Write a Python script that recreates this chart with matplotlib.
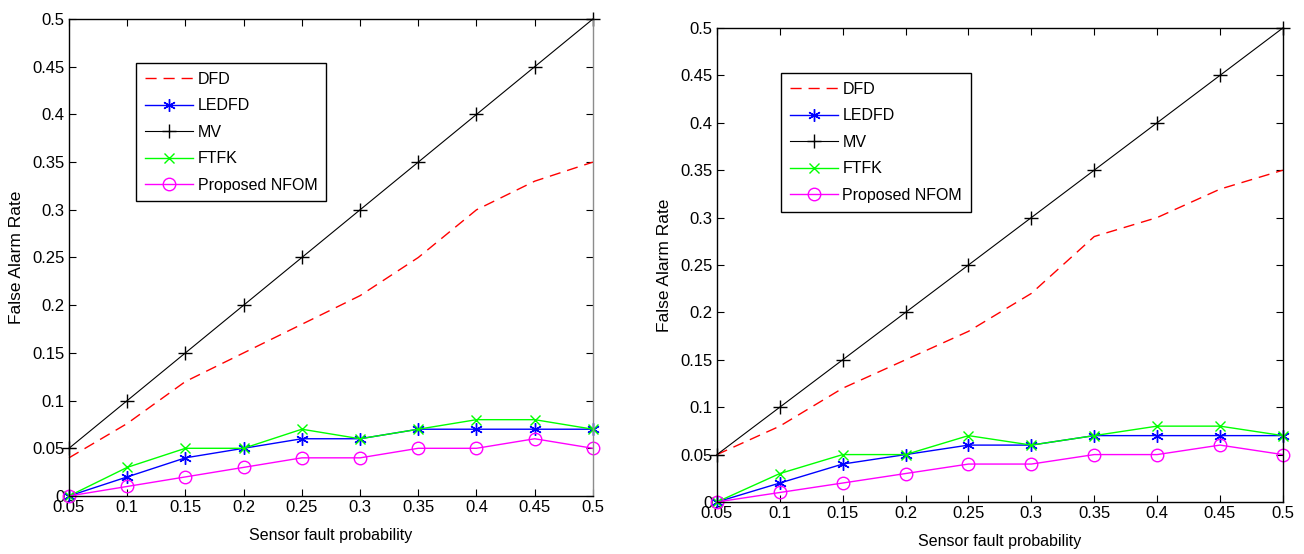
import matplotlib
matplotlib.use("Agg")
import matplotlib.pyplot as plt

plt.rcParams["font.family"] = ["Liberation Sans", "DejaVu Sans"]

# sensor fault probability (x) shared by both runs
P_FAULT = [0.05, 0.10, 0.15, 0.20, 0.25, 0.30, 0.35, 0.40, 0.45, 0.50]

# false alarm rates, run A (left) and run B (right)
DFD_A = [0.04, 0.076, 0.12, 0.15, 0.18, 0.21, 0.25, 0.30, 0.33, 0.35]
DFD_B = [0.05, 0.08, 0.12, 0.15, 0.18, 0.22, 0.28, 0.30, 0.33, 0.35]
LEDFD = [0.0, 0.02, 0.04, 0.05, 0.06, 0.06, 0.07, 0.07, 0.07, 0.07]
MV = [0.05, 0.10, 0.15, 0.20, 0.25, 0.30, 0.35, 0.40, 0.45, 0.50]
FTFK = [0.0, 0.03, 0.05, 0.05, 0.07, 0.06, 0.07, 0.08, 0.08, 0.07]
NFOM = [0.0, 0.01, 0.02, 0.03, 0.04, 0.04, 0.05, 0.05, 0.06, 0.05]

X_TICKS = [0.05, 0.1, 0.15, 0.2, 0.25, 0.3, 0.35, 0.4, 0.45, 0.5]
Y_TICKS = [0, 0.05, 0.1, 0.15, 0.2, 0.25, 0.3, 0.35, 0.4, 0.45, 0.5]

ASTERISK = (6, 2, 0)


def fmt(v):
    return ("%g" % v)


def draw(ax, dfd, legend_xy, xlabel_pad):
    ax.plot(P_FAULT, dfd, color="red", lw=1.0, dashes=(8, 5), label="DFD", clip_on=False)
    ax.plot(P_FAULT, LEDFD, color="blue", lw=1.0, marker=ASTERISK, ms=9, mew=1.0,
            label="LEDFD", clip_on=False)
    ax.plot(P_FAULT, MV, color="black", lw=0.8, marker="+", ms=10, mew=1.0,
            label="MV", clip_on=False)
    ax.plot(P_FAULT, FTFK, color="#00ff00", lw=1.0, marker="x", ms=6.5, mew=1.0,
            label="FTFK", clip_on=False)
    ax.plot(P_FAULT, NFOM, color="magenta", lw=1.0, marker="o", ms=9, mfc="none",
            mew=1.0, label="Proposed NFOM", clip_on=False)

    ax.set_xlim(0.05, 0.5)
    ax.set_ylim(0, 0.5)
    ax.set_xticks(X_TICKS)
    ax.set_xticklabels([fmt(v) for v in X_TICKS])
    ax.set_yticks(Y_TICKS)
    ax.set_yticklabels([fmt(v) for v in Y_TICKS])
    ax.tick_params(direction="in", length=5, width=0.8, top=True, right=True,
                   labelsize=12, pad=3)
    for s in ax.spines.values():
        s.set_linewidth(1.0)
    ax.set_xlabel("Sensor fault probability", fontsize=11.5, labelpad=xlabel_pad)
    ax.set_ylabel("False Alarm Rate", fontsize=12.5, labelpad=6)

    leg = ax.legend(loc="upper left", bbox_to_anchor=legend_xy, borderaxespad=0,
                    fontsize=11.5, handlelength=3.0, handletextpad=0.3,
                    fancybox=False, framealpha=1, edgecolor="black",
                    borderpad=0.55, labelspacing=0.72)
    leg.get_frame().set_linewidth(1.0)


fig = plt.figure(figsize=(13.04, 5.54), dpi=100)
ax1 = fig.add_axes([0.0529, 0.1047, 0.4018, 0.861])
ax2 = fig.add_axes([0.5498, 0.0939, 0.434, 0.8556])

draw(ax1, DFD_A, (0.128, 0.908), 9)
ax1.spines["right"].set_color("0.55")
draw(ax2, DFD_B, (0.113, 0.905), 9)

fig.savefig("out.png", dpi=100)
